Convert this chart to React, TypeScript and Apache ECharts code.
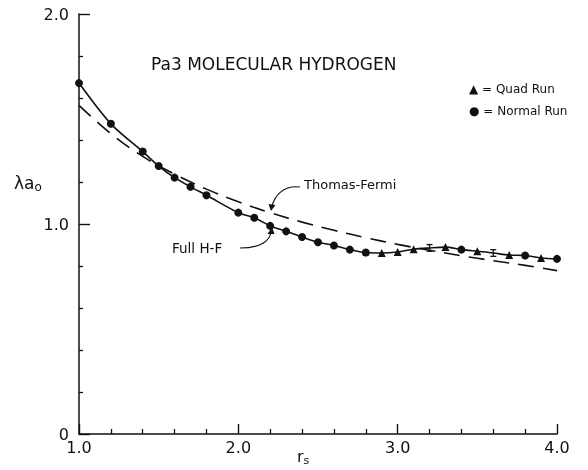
import React, { useEffect, useRef } from "react";
import * as echarts from "echarts";

// Full H-F curve (solid line) through all computed points
const hfRs = [1.0, 1.2, 1.4, 1.5, 1.6, 1.7, 1.8, 2.0, 2.1, 2.2, 2.3, 2.4, 2.5, 2.6, 2.7, 2.8, 2.9, 3.0, 3.1, 3.2, 3.3, 3.4, 3.5, 3.6, 3.7, 3.8, 3.9, 4.0];
const hfLambda = [1.671, 1.477, 1.345, 1.276, 1.221, 1.177, 1.137, 1.054, 1.03, 0.991, 0.965, 0.938, 0.913, 0.898, 0.878, 0.864, 0.862, 0.867, 0.88, 0.886, 0.89, 0.878, 0.87, 0.862, 0.852, 0.85, 0.838, 0.834];

// Normal run points (circles)
const normalRs = [1.0, 1.2, 1.4, 1.5, 1.6, 1.7, 1.8, 2.0, 2.1, 2.2, 2.3, 2.4, 2.5, 2.6, 2.7, 2.8, 3.4, 3.8, 4.0];
const normalLambda = [1.671, 1.477, 1.345, 1.276, 1.221, 1.177, 1.137, 1.054, 1.03, 0.991, 0.965, 0.938, 0.913, 0.898, 0.878, 0.864, 0.878, 0.85, 0.834];

// Quad run points (triangles)
const quadRs = [2.9, 3.0, 3.1, 3.3, 3.5, 3.7, 3.9];
const quadLambda = [0.862, 0.867, 0.88, 0.89, 0.87, 0.852, 0.838];

// Error-bar points
const errRs = [3.2, 3.6];
const errLow = [0.87, 0.846];
const errHigh = [0.902, 0.878];

// Thomas-Fermi (dashed)
const tfRs = [1.0, 1.2, 1.4, 1.6, 1.8, 2.0, 2.2, 2.4, 2.6, 2.8, 3.0, 3.2, 3.4, 3.6, 3.8, 4.0];
const tfLambda = [1.565, 1.43, 1.322, 1.237, 1.166, 1.106, 1.054, 1.009, 0.97, 0.935, 0.903, 0.875, 0.849, 0.825, 0.803, 0.778];

const xTicks = [1, 2, 3, 4];
const yTicks = [0, 1, 2];

const INK = "#111";
const FONT = "DejaVu Sans";

export default function App() {
  const ref = useRef<HTMLDivElement>(null);
  useEffect(() => {
    if (!ref.current) return;
    const chart = echarts.init(ref.current, null, { renderer: "svg" });
    chart.setOption({
      animation: false,
      grid: { left: 79, right: 31, top: 14, bottom: 36 },
      xAxis: {
        type: "value",
        min: xTicks[0],
        max: xTicks[xTicks.length - 1],
        interval: 1,
        axisLine: { show: true, onZero: false, lineStyle: { color: INK, width: 1.5 } },
        axisTick: { show: true, inside: true, length: 10, lineStyle: { color: INK, width: 1.4 } },
        minorTick: { show: true, splitNumber: 5, length: 5, lineStyle: { color: INK, width: 1.3 } },
        splitLine: { show: false },
        axisLabel: {
          formatter: (v: number) => v.toFixed(1),
          fontFamily: FONT,
          fontSize: 16,
          color: INK,
          margin: 5,
        },
      },
      yAxis: {
        type: "value",
        min: yTicks[0],
        max: yTicks[yTicks.length - 1],
        interval: 1,
        axisLine: { show: true, onZero: false, lineStyle: { color: INK, width: 1.5 } },
        axisTick: { show: true, inside: true, length: 11, lineStyle: { color: INK, width: 1.4 } },
        minorTick: { show: true, splitNumber: 5, length: 4, lineStyle: { color: INK, width: 1.3 } },
        splitLine: { show: false },
        axisLabel: {
          formatter: (v: number) => (v === 0 ? "0" : v.toFixed(1)),
          fontFamily: FONT,
          fontSize: 16,
          color: INK,
          margin: 10,
        },
      },
      series: [
        {
          type: "line",
          name: "Thomas-Fermi",
          data: tfRs.map((r, i) => [r, tfLambda[i]]),
          smooth: 0.4,
          showSymbol: false,
          lineStyle: { color: INK, width: 1.6, type: [16, 9] },
          z: 2,
        },
        {
          type: "line",
          name: "Full H-F",
          data: hfRs.map((r, i) => [r, hfLambda[i]]),
          smooth: 0.3,
          showSymbol: false,
          lineStyle: { color: INK, width: 1.6 },
          z: 3,
        },
        {
          type: "scatter",
          name: "Normal Run",
          data: normalRs.map((r, i) => [r, normalLambda[i]]),
          symbol: "circle",
          symbolSize: 8,
          itemStyle: { color: INK, opacity: 1 },
          z: 4,
        },
        {
          type: "scatter",
          name: "Quad Run",
          data: quadRs.map((r, i) => [r, quadLambda[i]]),
          symbol: "triangle",
          symbolSize: 8,
          itemStyle: { color: INK, opacity: 1 },
          z: 4,
        },
        {
          type: "custom",
          name: "error",
          data: errRs.map((r, i) => [r, errLow[i], errHigh[i]]),
          encode: { x: 0, y: [1, 2] },
          renderItem: (params: any, api: any) => {
            const x = api.value(0);
            const lo = api.coord([x, api.value(1)]);
            const hi = api.coord([x, api.value(2)]);
            const w = 3;
            const st = { stroke: INK, lineWidth: 1.3 };
            return {
              type: "group",
              children: [
                { type: "line", shape: { x1: lo[0], y1: lo[1], x2: hi[0], y2: hi[1] }, style: st },
                { type: "line", shape: { x1: lo[0] - w, y1: lo[1], x2: lo[0] + w, y2: lo[1] }, style: st },
                { type: "line", shape: { x1: hi[0] - w, y1: hi[1], x2: hi[0] + w, y2: hi[1] }, style: st },
              ],
            };
          },
          z: 5,
        },
      ],
      graphic: [
        {
          type: "text",
          left: 151,
          top: 55,
          style: { text: "Pa3 MOLECULAR HYDROGEN", font: `17px ${FONT}`, fill: INK },
        },
        {
          type: "text",
          left: 469,
          top: 83,
          style: { text: "▲ = Quad Run", font: `12px ${FONT}`, fill: INK },
        },
        {
          type: "text",
          left: 469,
          top: 105,
          style: { text: "● = Normal Run", font: `12px ${FONT}`, fill: INK },
        },
        {
          type: "text",
          left: 304,
          top: 178,
          style: { text: "Thomas-Fermi", font: `13px ${FONT}`, fill: INK },
        },
        {
          type: "text",
          left: 172,
          top: 241,
          style: { text: "Full H-F", font: `13.5px ${FONT}`, fill: INK },
        },
        {
          type: "bezierCurve",
          shape: { x1: 300, y1: 187, cpx1: 284, cpy1: 185, cpx2: 275, cpy2: 195, x2: 272, y2: 206 },
          style: { stroke: INK, lineWidth: 1.2, fill: "none" },
        },
        {
          type: "polygon",
          shape: { points: [[268.5, 204], [275.5, 205], [271, 211]] },
          style: { fill: INK },
        },
        {
          type: "bezierCurve",
          shape: { x1: 240, y1: 248, cpx1: 262, cpy1: 248, cpx2: 270, cpy2: 240, x2: 271, y2: 232 },
          style: { stroke: INK, lineWidth: 1.2, fill: "none" },
        },
        {
          type: "polygon",
          shape: { points: [[267.5, 234], [274.5, 234], [272, 227]] },
          style: { fill: INK },
        },
        {
          type: "text",
          left: 14,
          top: 174,
          style: {
            text: "{a|λa}{s|o}",
            rich: {
              a: { font: `17px ${FONT}`, fill: INK },
              s: { font: `12px ${FONT}`, fill: INK, padding: [8, 0, 0, 0] },
            },
          },
        },
        {
          type: "text",
          left: 297,
          top: 448,
          style: {
            text: "{a|r}{s|s}",
            rich: {
              a: { font: `16px ${FONT}`, fill: INK },
              s: { font: `11px ${FONT}`, fill: INK, padding: [8, 0, 0, 0] },
            },
          },
        },
      ],
    });
    return () => chart.dispose();
  }, []);
  return <div ref={ref} style={{ position: "fixed", left: 0, top: 0, width: 588, height: 470 }} />;
}
